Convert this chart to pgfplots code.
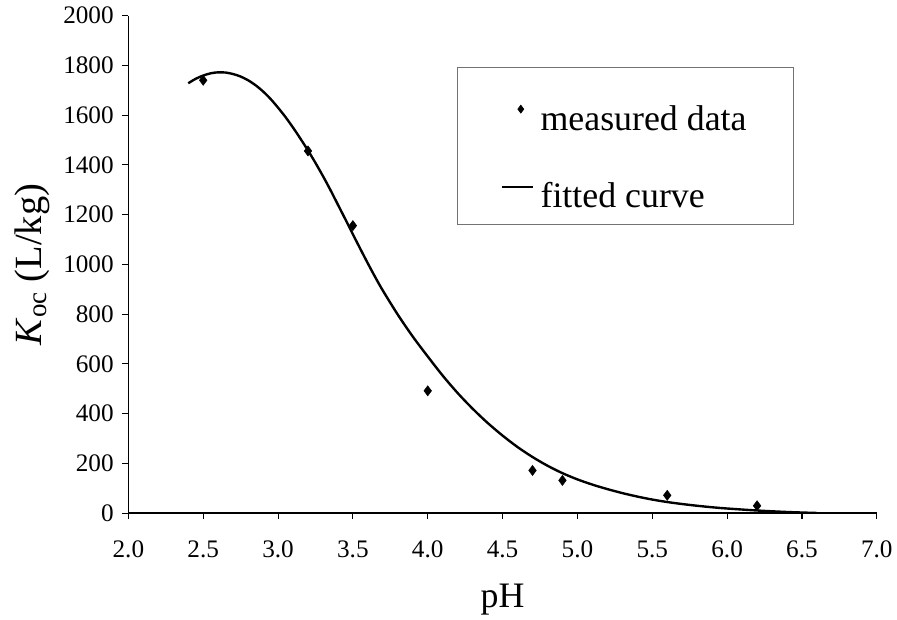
\documentclass[border=0pt]{standalone}
\usepackage{pgfplots}
\pgfplotsset{compat=1.18}
\usepackage{fontspec}
\setmainfont{Liberation Serif}

% measured K_oc values
\pgfplotstableread{
ph   koc
2.5  1740
3.2  1456
3.5  1156
4.0  492
4.7  172
4.9  132
5.6  72
6.2  30
}\measured

\begin{document}
\begin{tikzpicture}
    \begin{axis}[
        scale only axis,
        width=564pt, height=375pt,
        xmin=2.0, xmax=7.0,
        ymin=0, ymax=2000,
        xtick={2.0,2.5,...,7.0},
        ytick={0,200,...,2000},
        axis lines*=left,
        axis line style={line width=1.2pt},
        tick align=outside,
        major tick length=4.5pt,
        tick style={black, line width=0.8pt},
        ticklabel style={font=\fontsize{19}{22}\selectfont},
        /pgf/number format/assume math mode=true,
        xticklabel style={yshift=-13pt, /pgf/number format/.cd, fixed, fixed zerofill, precision=1},
        yticklabel style={xshift=-3pt, /pgf/number format/.cd, 1000 sep={}},
        xlabel={pH},
        ylabel={\textit{K}\textsubscript{oc} (L/kg)},
        xlabel style={font=\fontsize{27}{32}\selectfont,
            at={(axis description cs:0.5,-0.19)}, anchor=base},
        ylabel style={font=\fontsize{29}{34}\selectfont,
            at={(axis description cs:-0.128,0.5)}, anchor=center},
        legend style={
            at={(rel axis cs:0.439,0.896)}, anchor=north west,
            draw=black!55, line width=0.5pt,
            font=\fontsize{27}{32}\selectfont,
            inner xsep=33pt, inner ysep=11pt,
            row sep=19pt,
            nodes={inner sep=2pt, text height=34.5pt, text depth=0pt},
            /tikz/every odd column/.style={column sep=3pt},
        },
        legend cell align=left,
        legend image code/.code={
            \draw[#1] (0pt,-2pt) -- (23pt,-2pt);
        },
    ]

    \addplot[only marks, mark=diamond*, mark size=3.8pt, black,
        legend image code/.code={\draw[black, mark size=3pt] plot[mark=diamond*] coordinates {(14pt,-1pt)};}]
        table[x=ph, y=koc] {\measured};
    \addlegendentry{measured data}

    \addplot[black, line width=1.8pt, smooth, tension=0.5, no marks] coordinates {
        (2.40,1728) (2.45,1746) (2.50,1759) (2.55,1768) (2.60,1772)
        (2.65,1771) (2.70,1765) (2.75,1755) (2.80,1740) (2.85,1720)
        (2.90,1695) (2.95,1665) (3.00,1630) (3.05,1592) (3.10,1550)
        (3.15,1505) (3.20,1458) (3.25,1408) (3.30,1355) (3.35,1299)
        (3.40,1240) (3.45,1181) (3.50,1121) (3.55,1062) (3.60,1004)
        (3.65,948) (3.70,895) (3.80,798) (3.90,710) (4.00,630)
        (4.10,553) (4.20,483) (4.30,420) (4.40,363) (4.50,312)
        (4.60,266) (4.70,226) (4.80,191) (4.90,161) (5.00,136)
        (5.10,115) (5.20,97) (5.30,81) (5.40,67) (5.50,55)
        (5.60,45) (5.70,37) (5.80,30) (5.90,24) (6.00,19)
        (6.20,11) (6.40,5) (6.60,1)
    };
    \addlegendentry{fitted curve}

    \end{axis}
    \path ([xshift=-8pt]current bounding box.west);
    \path ([yshift=2pt]current bounding box.north);
\end{tikzpicture}
\end{document}
